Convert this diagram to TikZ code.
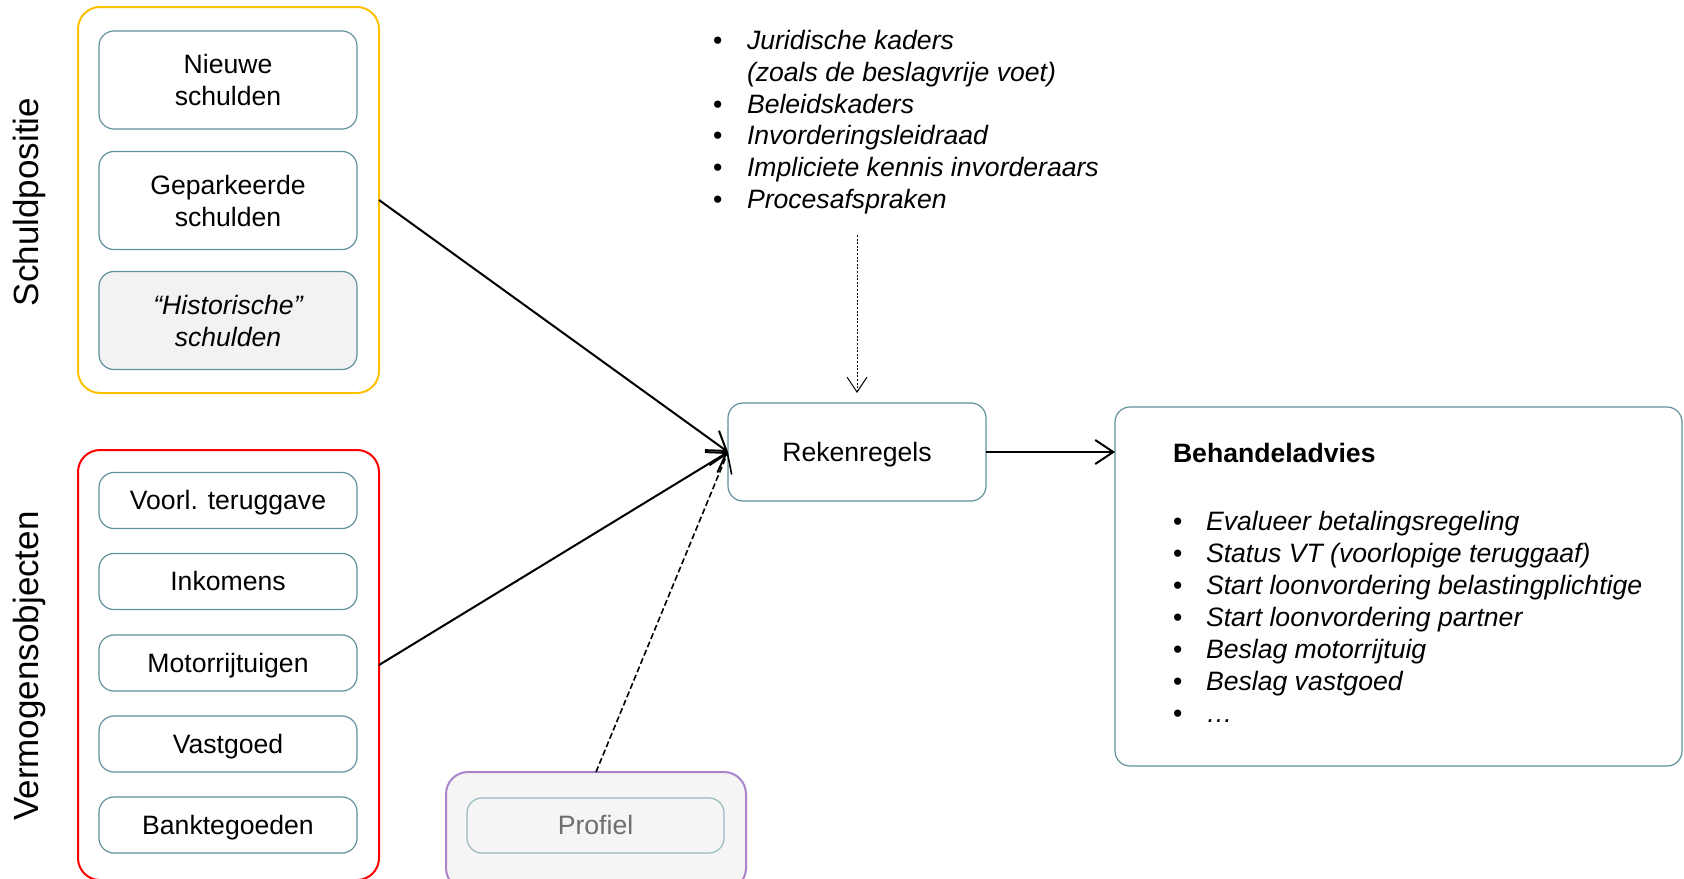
\documentclass[tikz,border=0pt]{standalone}
\usepackage{fontspec}
\setmainfont{Liberation Sans}
\usetikzlibrary{arrows.meta}
\definecolor{goldc}{RGB}{255,192,0}
\definecolor{redc}{RGB}{255,0,0}
\definecolor{purpc}{RGB}{172,132,204}
\definecolor{tealc}{RGB}{96,144,154}
\definecolor{ltealc}{RGB}{150,185,190}
\definecolor{lgrayc}{RGB}{242,242,242}
\definecolor{pgrayc}{RGB}{245,245,245}
\definecolor{tgrayc}{RGB}{110,110,110}
\newcommand\txtfont{\fontsize{13.3pt}{16pt}\selectfont}
\begin{document}
\begin{tikzpicture}[x=0.5pt,y=-0.5pt,
  every node/.style={inner sep=0pt, outer sep=0pt},
  txt/.style={font=\txtfont},
  group/.style={draw, line width=1pt, rounded corners=11pt},
  item/.style={draw=tealc, line width=0.6pt, rounded corners=7.5pt, align=center, font=\txtfont, fill=white, minimum width=129pt, minimum height=28pt},
  oneline/.style={text height=11.2pt, text depth=2pt},
  conn/.style={line width=1pt, -{Straight Barb[length=9pt,width=12pt]}},
  side/.style={rotate=90, font=\fontsize{17.5pt}{20pt}\selectfont},
]
\useasboundingbox (0,0) rectangle (1684,878);
\clip (0,0) rectangle (1684,878);

% Schuldpositie group
\node[group, draw=goldc, minimum width=150.5pt, minimum height=193pt] (schuld) at (228.5,200) {};
\node[item, minimum height=49pt] (nieuw) at (228,80) {Nieuwe\\schulden};
\node[item, minimum height=49pt] (gepark) at (228,200.5) {Geparkeerde\\schulden};
\node[item, minimum height=49pt, fill=lgrayc, font=\txtfont\itshape] (hist) at (228,320.5) {“Historische”\\schulden};
\node[side] (lblschuld) at (29,202) {Schuldpositie};

% Vermogensobjecten group
\node[group, draw=redc, minimum width=150.5pt, minimum height=215pt] (verm) at (228.5,665) {};
\node[item, oneline] (voorl) at (228,500.5) {Voorl. teruggave};
\node[item, oneline] (inkom) at (228,581.5) {Inkomens};
\node[item, oneline] (motor) at (228,663) {Motorrijtuigen};
\node[item, oneline] (vast) at (228,744) {Vastgoed};
\node[item, oneline] (bank) at (228,825) {Banktegoeden};
\node[side] (lblverm) at (29,666) {Vermogensobjecten};

% Profiel
\node[group, draw=purpc, fill=pgrayc, minimum width=150pt, minimum height=59pt] (prof) at (596,831) {};
\node[item, oneline, draw=ltealc, fill=pgrayc, text=tgrayc, minimum width=128.5pt, minimum height=27.5pt] (profin) at (595.5,825.5) {Profiel};

% Rekenregels
\node[item, oneline, minimum height=49pt] (rek) at (857,452) {Rekenregels};

% Kaders list
\foreach \t/\b [count=\i from 0] in {Juridische kaders/1,(zoals de beslagvrije voet)/0,Beleidskaders/1,Invorderingsleidraad/1,Impliciete kennis invorderaars/1,Procesafspraken/1}{
  \ifnum\b=1
    \node[txt, anchor=base west] (kb\i) at (713,{49.5+31.8*\i}) {•};
  \fi
  \node[txt, anchor=base west, font=\txtfont\itshape] (kt\i) at (747,{49.5+31.8*\i}) {\t};
}
\coordinate (dotstart) at (857,235);

% Behandeladvies
\node[draw=tealc, line width=0.6pt, rounded corners=7.5pt, minimum width=283.5pt, minimum height=179.5pt] (adv) at (1398.5,586.5) {};
\node[anchor=base west, font=\txtfont\bfseries] (advtitle) at (1173,462) {Behandeladvies};
\foreach \t [count=\i from 0] in {Evalueer betalingsregeling,Status VT (voorlopige teruggaaf),Start loonvordering belastingplichtige,Start loonvordering partner,Beslag motorrijtuig,Beslag vastgoed,…}{
  \node[txt, anchor=base west] (ab\i) at (1173,{530.5+32*\i}) {•};
  \node[txt, anchor=base west, font=\txtfont\itshape] (at\i) at (1206,{530.5+32*\i}) {\t};
}

% Connectors
\draw[conn] (schuld.east) -- (rek.west);
\draw[conn] (verm.east) -- (rek.west);
\draw[conn, line width=0.8pt, dash pattern=on 3pt off 1.5pt] (prof.north) -- (rek.west);
\draw[line width=0.5pt, dash pattern=on 1pt off 0.8pt, -{Straight Barb[length=7.5pt,width=10pt]}] (dotstart) -- ([yshift=5pt]rek.north);
\draw[conn] (rek.east) -- (rek.east -| adv.west);
\end{tikzpicture}
\end{document}
